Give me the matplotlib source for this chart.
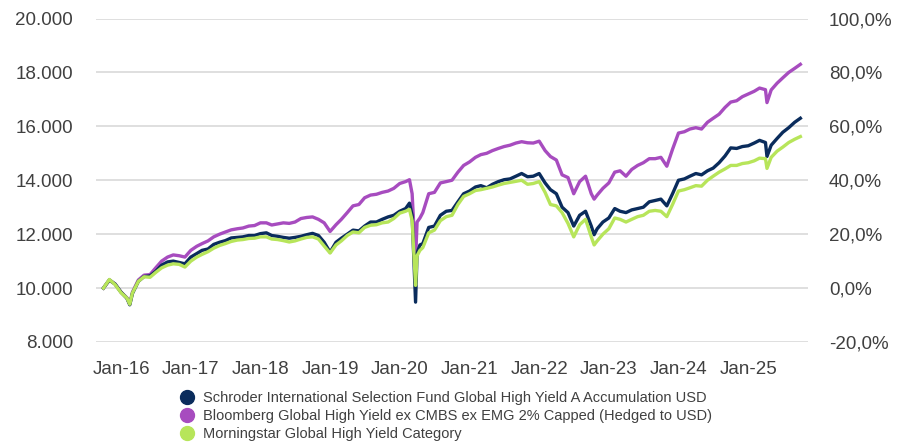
import matplotlib
matplotlib.use("Agg")
import matplotlib.pyplot as plt
import matplotlib.dates as mdates
from matplotlib.lines import Line2D
from matplotlib.ticker import FuncFormatter, MultipleLocator
import pandas as pd

dates = [
    "2015-09-30", "2015-10-31", "2015-11-30", "2015-12-31", "2016-01-31", "2016-02-15", "2016-02-29",
    "2016-03-31", "2016-04-30", "2016-05-31", "2016-06-30", "2016-07-31", "2016-08-31", "2016-09-30",
    "2016-10-31", "2016-11-30", "2016-12-31", "2017-01-31", "2017-02-28", "2017-03-31", "2017-04-30",
    "2017-05-31", "2017-06-30", "2017-07-31", "2017-08-31", "2017-09-30", "2017-10-31", "2017-11-30",
    "2017-12-31", "2018-01-31", "2018-02-28", "2018-03-31", "2018-04-30", "2018-05-31", "2018-06-30",
    "2018-07-31", "2018-08-31", "2018-09-30", "2018-10-31", "2018-11-30", "2018-12-31", "2019-01-31",
    "2019-02-28", "2019-03-31", "2019-04-30", "2019-05-31", "2019-06-30", "2019-07-31", "2019-08-31",
    "2019-09-30", "2019-10-31", "2019-11-30", "2019-12-31", "2020-01-31", "2020-02-20", "2020-03-05",
    "2020-03-23", "2020-03-31", "2020-04-15", "2020-04-30", "2020-05-31", "2020-06-30", "2020-07-31",
    "2020-08-31", "2020-09-30", "2020-10-31", "2020-11-30", "2020-12-31", "2021-01-31", "2021-02-28",
    "2021-03-31", "2021-04-30", "2021-05-31", "2021-06-30", "2021-07-31", "2021-08-31", "2021-09-30",
    "2021-10-31", "2021-11-30", "2021-12-31", "2022-01-31", "2022-02-28", "2022-03-31", "2022-04-30",
    "2022-05-31", "2022-06-30", "2022-07-31", "2022-08-31", "2022-09-30", "2022-10-15", "2022-10-31",
    "2022-11-30", "2022-12-31", "2023-01-31", "2023-02-28", "2023-03-31", "2023-04-30", "2023-05-31",
    "2023-06-30", "2023-07-31", "2023-08-31", "2023-09-30", "2023-10-31", "2023-11-30", "2023-12-31",
    "2024-01-31", "2024-02-29", "2024-03-31", "2024-04-30", "2024-05-31", "2024-06-30", "2024-07-31",
    "2024-08-31", "2024-09-30", "2024-10-31", "2024-11-30", "2024-12-31", "2025-01-31", "2025-02-28",
    "2025-03-31", "2025-04-08", "2025-04-30", "2025-05-31", "2025-06-30", "2025-07-31", "2025-08-31",
    "2025-09-30",
]

schroder = [
    10000, 10300, 10150, 9850, 9620, 9380, 9800,
    10250, 10430, 10450, 10620, 10850, 10970, 11000,
    10950, 10900, 11150, 11280, 11400, 11450, 11620,
    11700, 11760, 11860, 11880, 11900, 11950, 11950,
    12020, 12050, 11950, 11920, 11880, 11850, 11880,
    11920, 11980, 12030, 11950, 11700, 11330, 11700,
    11850, 12000, 12150, 12120, 12300, 12450, 12450,
    12550, 12640, 12700, 12850, 12950, 13150, 12700,
    9480, 11300, 11600, 11650, 12250, 12300, 12700,
    12850, 12880, 13200, 13500, 13600, 13750, 13800,
    13720, 13850, 13950, 14020, 14050, 14150, 14250,
    14130, 14150, 14250, 13900, 13650, 13500, 13000,
    12800, 12300, 12700, 12850, 12300, 11980, 12200,
    12450, 12600, 12950, 12850, 12800, 12900, 12950,
    13000, 13200, 13250, 13300, 13050, 13500, 14000,
    14050, 14150, 14250, 14200, 14350, 14450, 14650,
    14900, 15200, 15180, 15250, 15280, 15380, 15480,
    15400, 14880, 15300, 15550, 15780, 15950, 16150,
    16300,
]

bloomberg = [
    10000, 10300, 10150, 9850, 9640, 9400, 9850,
    10300, 10480, 10500, 10750, 11000, 11150, 11230,
    11200, 11150, 11400, 11550, 11650, 11750, 11900,
    12000, 12080, 12160, 12200, 12230, 12300, 12320,
    12420, 12420, 12340, 12380, 12420, 12400, 12450,
    12580, 12620, 12640, 12550, 12420, 12100, 12350,
    12550, 12800, 13050, 13100, 13350, 13450, 13480,
    13550, 13600, 13700, 13880, 13950, 14020, 13500,
    11050, 12450, 12600, 12800, 13500, 13550, 13900,
    13950, 14000, 14300, 14550, 14680, 14850, 14950,
    15000, 15100, 15180, 15250, 15300, 15380, 15430,
    15390, 15380, 15450, 15100, 14880, 14750, 14200,
    14100, 13500, 13950, 14150, 13500, 13300, 13450,
    13700, 13900, 14300, 14350, 14150, 14400, 14550,
    14650, 14800, 14800, 14850, 14520, 15150, 15750,
    15800, 15900, 15950, 15900, 16150, 16300, 16450,
    16700, 16900, 16950, 17100, 17200, 17300, 17420,
    17360, 16880, 17350, 17600, 17800, 18000, 18150,
    18300,
]

morningstar = [
    10000, 10320, 10130, 9830, 9630, 9400, 9820,
    10250, 10420, 10400, 10580, 10750, 10850, 10900,
    10880, 10780, 11000, 11150, 11250, 11350, 11480,
    11580, 11650, 11730, 11780, 11800, 11840, 11850,
    11900, 11900, 11820, 11800, 11760, 11710, 11750,
    11820, 11880, 11900, 11820, 11560, 11300, 11600,
    11750, 11950, 12080, 12050, 12250, 12330, 12350,
    12420, 12450, 12580, 12780, 12850, 12920, 12500,
    10100, 11200, 11400, 11500, 12050, 12150, 12500,
    12650, 12700, 13100, 13400, 13500, 13620, 13650,
    13700, 13750, 13820, 13880, 13920, 13960, 14000,
    13850, 13880, 13950, 13550, 13100, 13050, 12800,
    12400, 11900, 12350, 12550, 11900, 11600, 11750,
    12000, 12200, 12600, 12550, 12450, 12550, 12650,
    12700, 12850, 12880, 12850, 12650, 13100, 13600,
    13650, 13720, 13800, 13780, 14000, 14150, 14300,
    14420, 14550, 14550, 14620, 14650, 14720, 14820,
    14800, 14440, 14850, 15080, 15230, 15400, 15520,
    15620,
]

series_names = [
    "Schroder International Selection Fund Global High Yield A Accumulation USD",
    "Bloomberg Global High Yield ex CMBS ex EMG 2% Capped (Hedged to USD)",
    "Morningstar Global High Yield Category",
]
series_colors = ["#0a2c5c", "#a74cbf", "#b7e55a"]
year_ticks = [f"{y}-01-01" for y in range(2016, 2026)]

plt.rcParams["font.family"] = ["Liberation Sans", "DejaVu Sans"]
text_color = "#404040"

fig = plt.figure(figsize=(8.98, 4.45), dpi=100)
ax = fig.add_axes([96 / 898, 1 - 342 / 445, (808 - 96) / 898, (342 - 18.5) / 445])

x = pd.to_datetime(dates)
# draw order: index, fund, category on top
ax.plot(x, bloomberg, color=series_colors[1], lw=2.4, solid_joinstyle="round", zorder=3)
ax.plot(x, schroder, color=series_colors[0], lw=2.4, solid_joinstyle="round", zorder=4)
ax.plot(x, morningstar, color=series_colors[2], lw=2.4, solid_joinstyle="round", zorder=5)

ax.set_ylim(8000, 20000)
ax.yaxis.set_major_locator(MultipleLocator(2000))
ax.yaxis.set_major_formatter(FuncFormatter(lambda v, p: f"{int(v):,}".replace(",", ".")))
ax.set_xlim(pd.Timestamp("2015-08-22"), pd.Timestamp("2025-11-09"))
ax.set_xticks(pd.to_datetime(year_ticks))
ax.xaxis.set_major_formatter(mdates.DateFormatter("%b-%y"))

ax.grid(axis="y", color="#d9d9d9", lw=1.2)
ax.set_axisbelow(True)
for s in ax.spines.values():
    s.set_visible(False)
ax.tick_params(axis="both", length=0, labelsize=13.5, colors=text_color)
ax.tick_params(axis="y", pad=16.5)
ax.tick_params(axis="x", pad=14)

ax2 = ax.twinx()
ax2.set_ylim((8000 / 10000 - 1) * 100, (20000 / 10000 - 1) * 100)
ax2.yaxis.set_major_locator(MultipleLocator(20))
ax2.yaxis.set_major_formatter(FuncFormatter(lambda v, p: f"{v:.1f}%".replace(".", ",")))
for s in ax2.spines.values():
    s.set_visible(False)
ax2.tick_params(axis="y", length=0, labelsize=13.5, colors=text_color, pad=15)

handles = [Line2D([], [], ls="none", marker="o", markersize=10, color=c) for c in series_colors]
fig.legend(handles, series_names, loc="upper left", bbox_to_anchor=(180 / 898, 1 - 391 / 445),
           frameon=False, fontsize=10.5, labelcolor=text_color, handletextpad=0.6,
           handlelength=1.0, borderpad=0, borderaxespad=0, labelspacing=0.28)

fig.savefig("out.png", dpi=100)
